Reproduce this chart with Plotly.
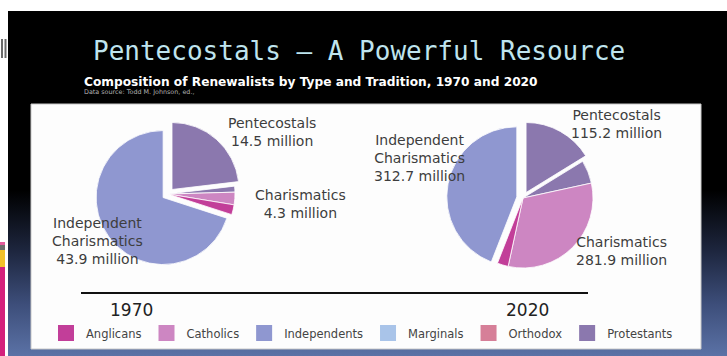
import base64
import plotly.graph_objects as go

# ---------------- data ----------------
slice_names = ["Pentecostals", "Charismatic Protestants", "Charismatic Catholics",
               "Charismatic Anglicans", "Independent Charismatics"]
slice_tradition = ["Protestants", "Protestants", "Catholics", "Anglicans", "Independents"]
slice_type = ["Pentecostals", "Charismatics", "Charismatics", "Charismatics",
              "Independent Charismatics"]
values_1970 = [14.5, 0.9, 1.9, 1.5, 43.9]
values_2020 = [115.2, 38.0, 225.9, 18.0, 312.7]
years = ["1970", "2020"]
traditions = ["Anglicans", "Catholics", "Independents", "Marginals", "Orthodox", "Protestants"]
tradition_colors = ["#C23E99", "#CD86C2", "#8F97D0", "#A9C4E9", "#D67F98", "#8B78AE"]
type_names = ["Pentecostals", "Charismatics", "Independent Charismatics"]

title_text = "Pentecostals \u2013 A Powerful Resource"
subtitle_text = "Composition of Renewalists by Type and Tradition, 1970 and 2020"
source_text = "Data source: Todd M. Johnson, ed.,"

# ---------------- helpers ----------------
W, H = 727, 356


def fx(px):
    return px / W


def fy(py):
    return 1 - py / H


def totals(vals):
    return {t: round(sum(v for v, s in zip(vals, slice_type) if s == t), 1) for t in type_names}


color_of = dict(zip(traditions, tradition_colors))
slice_colors = [color_of[t] for t in slice_tradition]
pulls = [0.09 if s != "Charismatics" else 0 for s in slice_type]


def pie_domain(cx, cy, r, pull):
    half = r * (1 + pull)
    return dict(x=[fx(cx - half), fx(cx + half)], y=[fy(cy + half), fy(cy - half)])


fig = go.Figure()

pie_geom = [(168, 194, 67), (523, 198, 70)]
for vals, yr, (cx, cy, r) in zip([values_1970, values_2020], years, pie_geom):
    fig.add_trace(go.Pie(
        labels=slice_names, values=vals, name=yr,
        sort=False, direction="clockwise", rotation=0,
        pull=pulls, textinfo="none", showlegend=False,
        marker=dict(colors=slice_colors, line=dict(color="white", width=0.8)),
        domain=pie_domain(cx, cy, r, max(pulls)),
        hovertemplate="%{label}: %{value} million<extra>" + yr + "</extra>",
    ))

# legend entries (traditions)
for t, c in zip(traditions, tradition_colors):
    fig.add_trace(go.Scatter(
        x=[None], y=[None], mode="markers", name=t,
        marker=dict(symbol="square", size=16, color=c, line=dict(width=0)),
    ))

# ---------------- background ----------------
svg = ("<svg xmlns='http://www.w3.org/2000/svg' width='100' height='100' viewBox='0 0 100 100' "
       "preserveAspectRatio='none'><defs><linearGradient id='g' x1='0' y1='0' x2='0' y2='1'>"
       "<stop offset='0' stop-color='#000000'/><stop offset='0.52' stop-color='#000000'/>"
       "<stop offset='0.70' stop-color='#1e2740'/><stop offset='0.85' stop-color='#3d4e7a'/>"
       "<stop offset='1' stop-color='#5b72a6'/></linearGradient></defs>"
       "<rect width='100' height='100' fill='url(#g)'/></svg>")
bg_uri = "data:image/svg+xml;base64," + base64.b64encode(svg.encode()).decode()

images = [dict(source=bg_uri, xref="paper", yref="paper", x=fx(8), y=fy(11),
               sizex=fx(727) - fx(8), sizey=fy(11) - fy(356), xanchor="left", yanchor="top",
               sizing="stretch", layer="below")]

shapes = [
    # white chart panel
    dict(type="rect", xref="paper", yref="paper", x0=fx(31), x1=fx(701), y0=fy(349), y1=fy(104),
         fillcolor="#fdfdfd", line=dict(color="#c8c8c8", width=1), layer="below"),
    # baseline under pies
    dict(type="line", xref="paper", yref="paper", x0=fx(81), x1=fx(588), y0=fy(293), y1=fy(293),
         line=dict(color="#111111", width=2)),
    # slide-edge decorations
    dict(type="rect", xref="paper", yref="paper", x0=0, x1=fx(5), y0=fy(245), y1=fy(242),
         fillcolor="#e25b9c", line=dict(width=0), layer="below"),
    dict(type="rect", xref="paper", yref="paper", x0=0, x1=fx(5), y0=fy(250), y1=fy(245),
         fillcolor="#6d6d6d", line=dict(width=0), layer="below"),
    dict(type="rect", xref="paper", yref="paper", x0=0, x1=fx(5), y0=fy(267), y1=fy(250),
         fillcolor="#f2c12a", line=dict(width=0), layer="below"),
    dict(type="rect", xref="paper", yref="paper", x0=0, x1=fx(5), y0=0, y1=fy(267),
         fillcolor="#d4207c", line=dict(width=0), layer="below"),
    dict(type="rect", xref="paper", yref="paper", x0=fx(1), x1=fx(3), y0=fy(58), y1=fy(39),
         fillcolor="#6a6a6a", line=dict(width=0), layer="below"),
    dict(type="rect", xref="paper", yref="paper", x0=fx(4.5), x1=fx(6.5), y0=fy(58), y1=fy(39),
         fillcolor="#6a6a6a", line=dict(width=0), layer="below"),
]

# ---------------- texts ----------------
lab_font = dict(family="DejaVu Sans", size=14, color="#3d3d3d")
annotations = [
    dict(text=title_text, x=fx(359), y=fy(51), xanchor="center", yanchor="middle",
         font=dict(family="DejaVu Sans Mono", size=26, color="#bfe4ee")),
    dict(text="<b>" + subtitle_text + "</b>", x=fx(82), y=fy(82), xanchor="left", yanchor="middle",
         font=dict(family="DejaVu Sans", size=12.2, color="#ffffff")),
    dict(text=source_text, x=fx(82), y=fy(92), xanchor="left", yanchor="middle",
         font=dict(family="DejaVu Sans", size=6.4, color="#b0b0b0")),
]

label_pos = [
    {"Pentecostals": (272, 132), "Charismatics": (300, 204), "Independent Charismatics": (97, 241)},
    {"Pentecostals": (616, 124), "Charismatics": (621, 251), "Independent Charismatics": (419, 158)},
]
for vals, pos in zip([values_1970, values_2020], label_pos):
    tot = totals(vals)
    for t in type_names:
        name = t.replace(" ", "<br>")
        x, y = pos[t]
        annotations.append(dict(text=f"{name}<br>{tot[t]:.1f} million", x=fx(x), y=fy(y),
                                xanchor="center", yanchor="middle", align="center", font=lab_font))

for yr, x in zip(years, [131, 527]):
    annotations.append(dict(text=yr, x=fx(x), y=fy(310), xanchor="center", yanchor="middle",
                            font=dict(family="DejaVu Sans", size=17, color="#222222")))

for a in annotations:
    a.update(xref="paper", yref="paper", showarrow=False)

fig.update_layout(
    width=W, height=H, margin=dict(l=0, r=0, t=0, b=0),
    paper_bgcolor="#ffffff", plot_bgcolor="rgba(0,0,0,0)",
    xaxis=dict(visible=False), yaxis=dict(visible=False),
    images=images, shapes=shapes, annotations=annotations,
    legend=dict(orientation="h", x=fx(46), xanchor="left", y=fy(333), yanchor="middle",
                font=dict(family="DejaVu Sans", size=11.5, color="#444444"),
                bgcolor="rgba(0,0,0,0)", itemwidth=30),
)

fig.write_html("out.html")
